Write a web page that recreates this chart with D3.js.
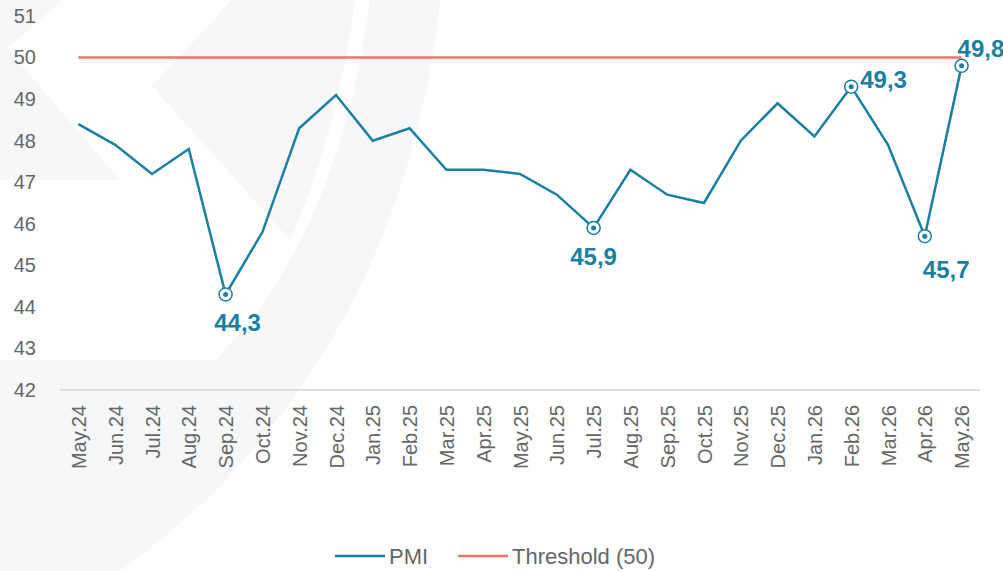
<!DOCTYPE html>
<html>
<head>
<meta charset="utf-8">
<script src="https://cdn.jsdelivr.net/npm/d3@7"></script>
<style>
    body { margin: 0; background: #fff; }
    #chart { width: 1003px; height: 571px; }
    text { font-family: "Liberation Sans", Arial, sans-serif; }
</style>
</head>
<body>
<div id="chart"></div>
<script>
// PMI data (monthly)
const months = ['May.24', 'Jun.24', 'Jul.24', 'Aug.24', 'Sep.24', 'Oct.24', 'Nov.24', 'Dec.24',
    'Jan.25', 'Feb.25', 'Mar.25', 'Apr.25', 'May.25', 'Jun.25', 'Jul.25', 'Aug.25', 'Sep.25',
    'Oct.25', 'Nov.25', 'Dec.25', 'Jan.26', 'Feb.26', 'Mar.26', 'Apr.26', 'May.26'];
const pmiValues = [48.4, 47.9, 47.2, 47.8, 44.3, 45.8, 48.3, 49.1, 48.0, 48.3, 47.3, 47.3, 47.2,
    46.7, 45.9, 47.3, 46.7, 46.5, 48.0, 48.9, 48.1, 49.3, 47.9, 45.7, 49.8];
const thresholdValue = 50;
const yTicks = [42, 43, 44, 45, 46, 47, 48, 49, 50, 51];
// highlighted points: month index and label placement
const highlights = [
    { idx: 4, pos: 'below' },
    { idx: 14, pos: 'belowCenter' },
    { idx: 21, pos: 'right' },
    { idx: 23, pos: 'belowRight' },
    { idx: 24, pos: 'above' }
];

const blue = '#1a7fa1';
const red = '#f0736a';
const grey = '#666';

const width = 1003, height = 571;
const svg = d3.select('#chart')
    .append('svg')
    .attr('width', width)
    .attr('height', height);

// faint watermark shapes in the background
const wm = svg.append('g').attr('fill', '#f5f7f8');
wm.append('path').attr('d', 'M0,0 L63,0 L7,48 L120,180 L0,180 Z');
wm.append('path').attr('d', 'M232,0 L355,0 C345,80 322,170 290,240 L152,86 Z');
wm.append('path').attr('d', 'M370,0 L440,0 C420,200 330,420 120,571 L0,571 L0,470 C180,440 330,300 370,0 Z');
wm.append('path').attr('d', 'M0,360 L240,360 C170,420 90,460 0,470 Z');

const xScale = d3.scalePoint()
    .domain(months)
    .range([60, 980])
    .padding(0.5);

const yScale = d3.scaleLinear()
    .domain([42, 51])
    .range([390, 16]);

// y axis labels
const yAxis = svg.append('g')
    .attr('transform', 'translate(36,0)')
    .call(d3.axisLeft(yScale).tickValues(yTicks).tickSize(0).tickPadding(0).tickFormat(d3.format('d')));
yAxis.select('.domain').remove();
yAxis.selectAll('text')
    .attr('fill', grey)
    .attr('font-size', 20)
    .attr('font-family', '"Liberation Sans", Arial, sans-serif');

// x axis baseline + rotated labels
const xAxis = svg.append('g')
    .attr('transform', `translate(0,${yScale(42)})`)
    .call(d3.axisBottom(xScale).tickSize(0).tickPadding(0));
xAxis.select('.domain')
    .attr('d', 'M60,0H980')
    .attr('stroke', '#dcdcdc')
    .attr('stroke-width', 2);
xAxis.selectAll('text')
    .attr('fill', grey)
    .attr('font-size', 20)
    .attr('font-family', '"Liberation Sans", Arial, sans-serif')
    .attr('text-anchor', 'end')
    .attr('dy', '0.35em')
    .attr('transform', 'translate(0,15) rotate(-90)')
    .attr('x', 0)
    .attr('y', 0);

// threshold line
svg.append('line')
    .attr('x1', xScale(months[0]))
    .attr('x2', xScale(months[months.length - 1]))
    .attr('y1', yScale(thresholdValue))
    .attr('y2', yScale(thresholdValue))
    .attr('stroke', red)
    .attr('stroke-width', 2.5);

// PMI line
const line = d3.line()
    .x((d, i) => xScale(months[i]))
    .y(d => yScale(d));

svg.append('path')
    .datum(pmiValues)
    .attr('fill', 'none')
    .attr('stroke', blue)
    .attr('stroke-width', 2.5)
    .attr('d', line);

// highlighted points
const hl = svg.selectAll('.hl')
    .data(highlights)
    .enter()
    .append('g')
    .attr('class', 'hl')
    .attr('transform', d => `translate(${xScale(months[d.idx])},${yScale(pmiValues[d.idx])})`);

hl.append('circle')
    .attr('r', 6.5)
    .attr('fill', '#fff')
    .attr('stroke', blue)
    .attr('stroke-width', 1.5);
hl.append('circle')
    .attr('r', 2.5)
    .attr('fill', blue);

const labelOffsets = {
    below: { dx: 12, dy: 37, anchor: 'middle' },
    belowCenter: { dx: 0, dy: 37, anchor: 'middle' },
    belowRight: { dx: -2, dy: 42, anchor: 'start' },
    right: { dx: 9, dy: 1, anchor: 'start' },
    above: { dx: -4, dy: -9, anchor: 'start' }
};

hl.append('text')
    .attr('x', d => labelOffsets[d.pos].dx)
    .attr('y', d => labelOffsets[d.pos].dy)
    .attr('text-anchor', d => labelOffsets[d.pos].anchor)
    .attr('fill', blue)
    .attr('font-size', 24)
    .attr('font-weight', 'bold')
    .text(d => pmiValues[d.idx].toFixed(1).replace('.', ','));

// legend
const legendItems = [
    { name: 'PMI', color: blue, x: 335 },
    { name: 'Threshold (50)', color: red, x: 458 }
];
const legend = svg.selectAll('.legend')
    .data(legendItems)
    .enter()
    .append('g')
    .attr('class', 'legend')
    .attr('transform', d => `translate(${d.x},556)`);
legend.append('line')
    .attr('x1', 0).attr('x2', 50)
    .attr('stroke', d => d.color)
    .attr('stroke-width', 2.5);
legend.append('text')
    .attr('x', 54)
    .attr('dy', '0.35em')
    .attr('fill', grey)
    .attr('font-size', 22)
    .text(d => d.name);
</script>
</body>
</html>
